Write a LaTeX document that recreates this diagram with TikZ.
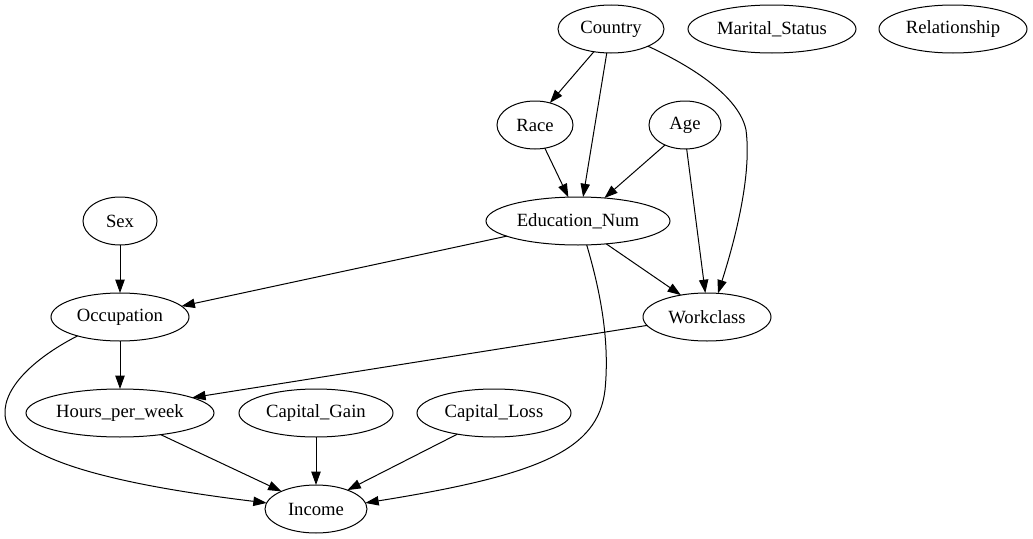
\documentclass[tikz,border=0pt]{standalone}
\usepackage{fontspec}
\setmainfont{Liberation Serif}
\usetikzlibrary{shapes.geometric,arrows.meta}
\begin{document}
\begin{tikzpicture}[x=0.75pt,y=-0.75pt,
  var/.style={ellipse, draw, line width=0.75pt, inner sep=0pt, outer sep=0pt,
    minimum height=36pt, font=\fontsize{14pt}{16pt}\selectfont},
  edge/.style={draw, line width=0.75pt, -{Triangle[length=10pt,width=7pt]}}]
\fill[white] (0,0) rectangle (1033,539);
\path[use as bounding box] (0,0) rectangle (1033,539);

% variables, one rank per row
\node[var, minimum width=79.5pt] (country) at (611,29) {Country};
\node[var, minimum width=126pt] (marital) at (772,29) {Marital\_Status};
\node[var, minimum width=111pt] (relation) at (953,29) {Relationship};
\node[var, minimum width=57pt] (race) at (535,125) {Race};
\node[var, minimum width=54pt] (age) at (685,125) {Age};
\node[var, minimum width=55.5pt] (sex) at (120,221) {Sex};
\node[var, minimum width=138pt] (edu) at (578,221) {Education\_Num};
\node[var, minimum width=103.5pt] (occ) at (120,317) {Occupation};
\node[var, minimum width=96pt] (work) at (707,317) {Workclass};
\node[var, minimum width=141pt] (hours) at (120,413) {Hours\_per\_week};
\node[var, minimum width=115.5pt] (gain) at (316,413) {Capital\_Gain};
\node[var, minimum width=115.5pt] (loss) at (494,413) {Capital\_Loss};
\node[var, minimum width=76.5pt] (income) at (316,509) {Income};

% straight dependencies
\draw[edge] (country.233) -- (race.56);
\draw[edge] (country.260.5) -- (edu.78);
\draw[edge] (race.293.5) -- (edu.112.6);
\draw[edge] (age.225) -- (edu.41.6);
\draw[edge] (age.274.6) -- (work.94.8);
\draw[edge] (edu.192.7) -- (occ.10.7);
\draw[edge] (edu.321.3) -- (work.140.8);
\draw[edge] (sex.270) -- (occ.90);
\draw[edge] (occ.270) -- (hours.90);
\draw[edge] (work.188.3) -- (hours.12.1);
\draw[edge] (hours.332.9) -- (income.153.4);
\draw[edge] (gain.270) -- (income.90);
\draw[edge] (loss.210.7) -- (income.31.4);

% curved dependencies
\draw[edge] (country.335) .. controls (700,70) and (740,100) .. (746,130)
  .. controls (752,175) and (735,240) .. (work.65.4);
\draw[edge] (edu.290.6) .. controls (600,290) and (610,340) .. (605,390)
  .. controls (598,450) and (540,475) .. (income.7.7);
\draw[edge] (occ.204) .. controls (40,355) and (3,385) .. (5,415)
  .. controls (8,460) and (120,485) .. (income.173);
\end{tikzpicture}
\end{document}
